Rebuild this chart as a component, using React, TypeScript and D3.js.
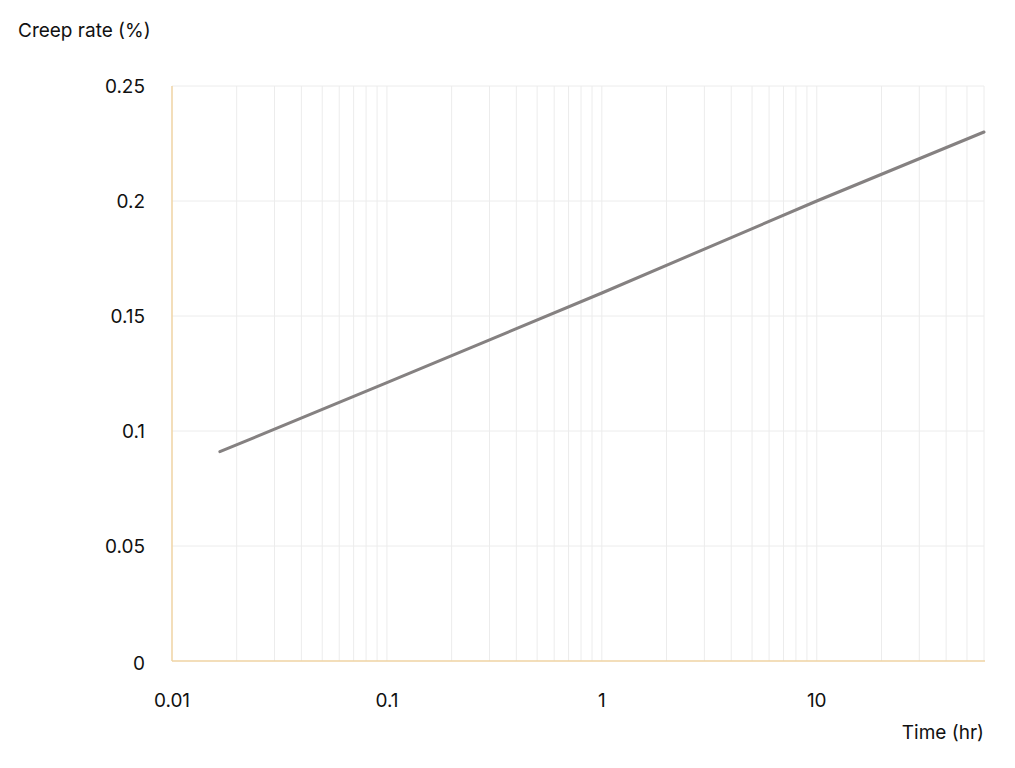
import React from "react";
import * as d3 from "d3";

const timeHr = [0.0167, 0.1, 1, 10, 60];
const creepRate = [0.091, 0.121, 0.160, 0.2, 0.230];
const xTickValues = [0.01, 0.1, 1, 10];
const xTickLabels = ["0.01", "0.1", "1", "10"];
const yTickValues = [0, 0.05, 0.1, 0.15, 0.2, 0.25];
const yTickLabels = ["0", "0.05", "0.1", "0.15", "0.2", "0.25"];

const W = 1015, H = 768;
const M = { left: 172, right: 984, top: 86, bottom: 661 };
const FONT = "Inter, 'Noto Sans', sans-serif";
const FS = 19;

export default function App() {
  const x = d3.scaleLog().domain([0.01, 60]).range([M.left, M.right]);
  const y = d3.scaleLinear().domain([0, 0.25]).range([M.bottom, M.top]);

  const gridX: number[] = [];
  for (let d = 0.01; d < 100; d *= 10) {
    for (let k = 1; k <= 9; k++) {
      const v = +(d * k).toPrecision(3);
      if (v > 0.01 && v <= 60) gridX.push(v);
    }
  }
  const line = d3.line<number>().x((_, i) => x(timeHr[i])).y((v) => y(v));

  return (
    <svg width={W} height={H} style={{ position: "absolute", left: 0, top: 0, background: "#fff" }} fontFamily={FONT}>
      {gridX.map((v, i) => (
        <line key={"gx" + i} x1={x(v)} x2={x(v)} y1={M.top} y2={M.bottom} stroke="#ececec" strokeWidth={1} />
      ))}
      {yTickValues.slice(1).map((v, i) => (
        <line key={"gy" + i} x1={M.left} x2={M.right} y1={y(v)} y2={y(v)} stroke="#ececec" strokeWidth={1} />
      ))}
      <line x1={M.left} x2={M.left} y1={M.top} y2={M.bottom} stroke="#efd3a3" strokeWidth={1.5} />
      <line x1={M.left} x2={M.right + 1} y1={M.bottom} y2={M.bottom} stroke="#efd3a3" strokeWidth={1.5} />
      <path d={line(creepRate) || ""} fill="none" stroke="#858181" strokeWidth={3} strokeLinecap="round" />
      {yTickValues.map((v, i) => (
        <text key={"yt" + i} x={145} y={y(v) + (v === 0 ? 2 : 0)} dy="0.35em" textAnchor="end" fontSize={FS} fill="#111">
          {yTickLabels[i]}
        </text>
      ))}
      {xTickValues.map((v, i) => (
        <text key={"xt" + i} x={x(v)} y={700} dy="0.35em" textAnchor="middle" fontSize={FS} fill="#111">
          {xTickLabels[i]}
        </text>
      ))}
      <text x={18} y={30} dy="0.35em" fontSize={FS} fill="#111">Creep rate (%)</text>
      <text x={984} y={732} dy="0.35em" textAnchor="end" fontSize={FS} fill="#111">Time (hr)</text>
    </svg>
  );
}
